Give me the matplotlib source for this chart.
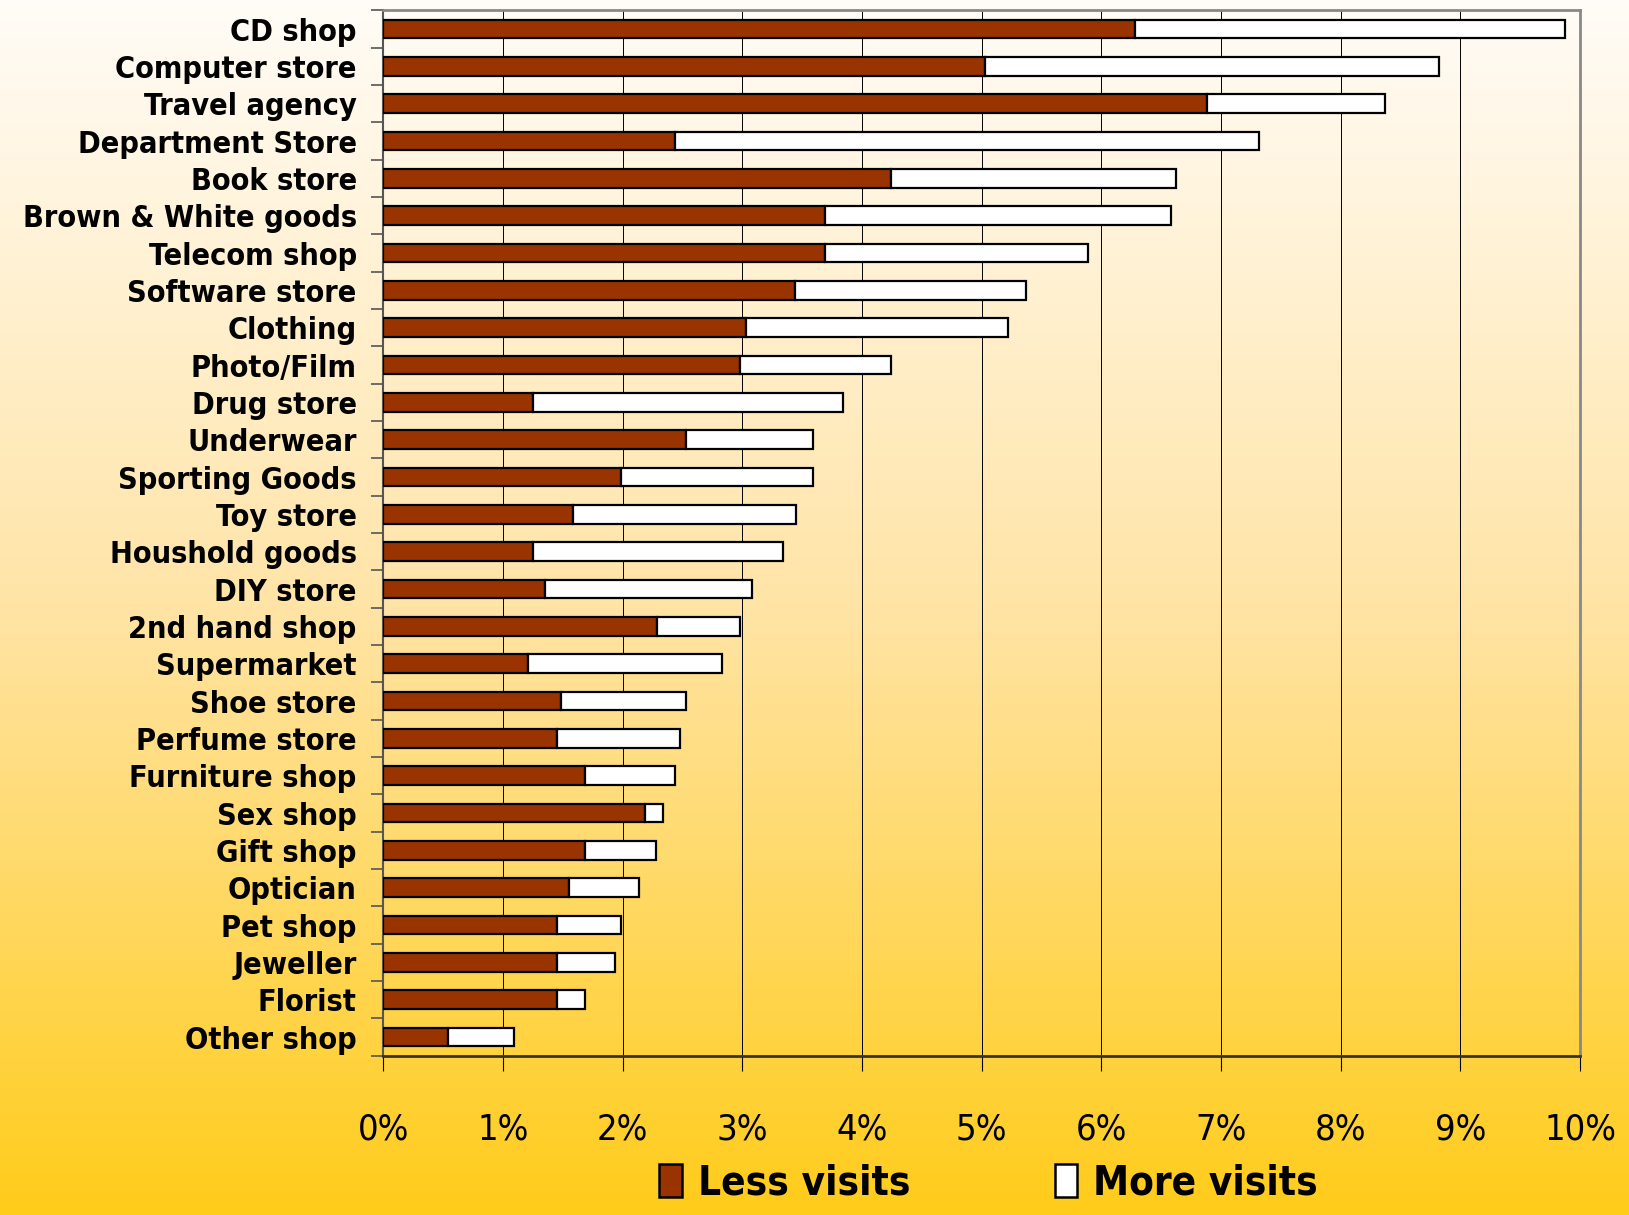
import numpy as np
import matplotlib
matplotlib.use('Agg')
import matplotlib.pyplot as plt
from matplotlib.colors import LinearSegmentedColormap
from matplotlib.patches import Patch
from matplotlib.ticker import FixedLocator
from matplotlib import font_manager

# Shop categories, top to bottom
shops = ['CD shop', 'Computer store', 'Travel agency', 'Department Store', 'Book store',
         'Brown & White goods', 'Telecom shop', 'Software store', 'Clothing', 'Photo/Film',
         'Drug store', 'Underwear', 'Sporting Goods', 'Toy store', 'Houshold goods',
         'DIY store', '2nd hand shop', 'Supermarket', 'Shoe store', 'Perfume store',
         'Furniture shop', 'Sex shop', 'Gift shop', 'Optician', 'Pet shop', 'Jeweller',
         'Florist', 'Other shop']

# share of respondents (%)
less_visits = [6.28, 5.03, 6.88, 2.44, 4.24, 3.69, 3.69, 3.44, 3.03, 2.98,
               1.25, 2.53, 1.99, 1.59, 1.25, 1.35, 2.29, 1.21, 1.49, 1.45,
               1.69, 2.19, 1.69, 1.55, 1.45, 1.45, 1.45, 0.54]
total_visits = [9.87, 8.82, 8.37, 7.32, 6.62, 6.58, 5.89, 5.37, 5.22, 4.24,
                3.84, 3.59, 3.59, 3.45, 3.34, 3.08, 2.98, 2.83, 2.53, 2.48,
                2.44, 2.34, 2.28, 2.14, 1.99, 1.94, 1.69, 1.09]
more_visits = [t - l for t, l in zip(total_visits, less_visits)]

x_ticks = list(range(0, 11))
x_labels = ['%d%%' % v for v in x_ticks]

# narrow font if there is one, else condensed DejaVu
names = set(f.name for f in font_manager.fontManager.ttflist)
if 'Liberation Sans Narrow' in names:
    fam = ['Liberation Sans Narrow', 'DejaVu Sans']
else:
    fam = ['DejaVu Sans']
plt.rcParams['font.family'] = fam
plt.rcParams['font.stretch'] = 'condensed'

fig = plt.figure(figsize=(16.29, 12.15), dpi=100)

# background gradient over the whole figure
bg = fig.add_axes([0, 0, 1, 1], zorder=-10)
cmap = LinearSegmentedColormap.from_list('bg', ['#FFFCF7', '#FFE4A6', '#FFCC1A'])
bg.imshow(np.linspace(0, 1, 256).reshape(-1, 1), aspect='auto', cmap=cmap,
          extent=[0, 1, 0, 1])
bg.set_axis_off()

ax = fig.add_axes([0.2352, 0.1311, 0.7348, 0.8603])
ax.patch.set_alpha(0)

y = np.arange(len(shops))
ax.barh(y, less_visits, height=0.5, color='#993300', edgecolor='black',
        linewidth=1.6, zorder=3, label='Less visits')
ax.barh(y, more_visits, left=less_visits, height=0.5, color='white',
        edgecolor='black', linewidth=1.6, zorder=3, label='More visits')

ax.set_xlim(0, 10)
ax.set_ylim(len(shops) - 0.5, -0.5)

ax.set_xticks(x_ticks)
ax.set_xticklabels(x_labels, fontsize=26)
ax.tick_params(axis='x', direction='out', length=11, width=0.8, color='black', pad=30)
ax.grid(axis='x', color='black', linewidth=0.7, zorder=1)

ax.set_yticks(y)
ax.set_yticklabels(shops, fontsize=22, fontweight='bold')
ax.tick_params(axis='y', which='major', length=0, pad=19)
ax.yaxis.set_minor_locator(FixedLocator(np.arange(-0.5, len(shops), 1.0)))
ax.tick_params(axis='y', which='minor', direction='out', length=9, width=1.2, color='#555555')

for s in ['top', 'right']:
    ax.spines[s].set_color('#888888')
    ax.spines[s].set_linewidth(2)
ax.spines['left'].set_color('#555555')
ax.spines['left'].set_linewidth(1.5)
ax.spines['bottom'].set_color('#333333')
ax.spines['bottom'].set_linewidth(2)

handles = [Patch(facecolor='#993300', edgecolor='black', linewidth=1.8),
           Patch(facecolor='white', edgecolor='black', linewidth=1.8)]
fig.legend(handles, ['Less visits', 'More visits'], loc='center',
           bbox_to_anchor=(0.607, 0.026), ncol=2, frameon=False,
           prop={'family': fam, 'weight': 'bold', 'size': 29, 'stretch': 'condensed'},
           handlelength=0.55, handleheight=0.9, handletextpad=0.4, columnspacing=3.6)

fig.savefig('out.png', dpi=100)
